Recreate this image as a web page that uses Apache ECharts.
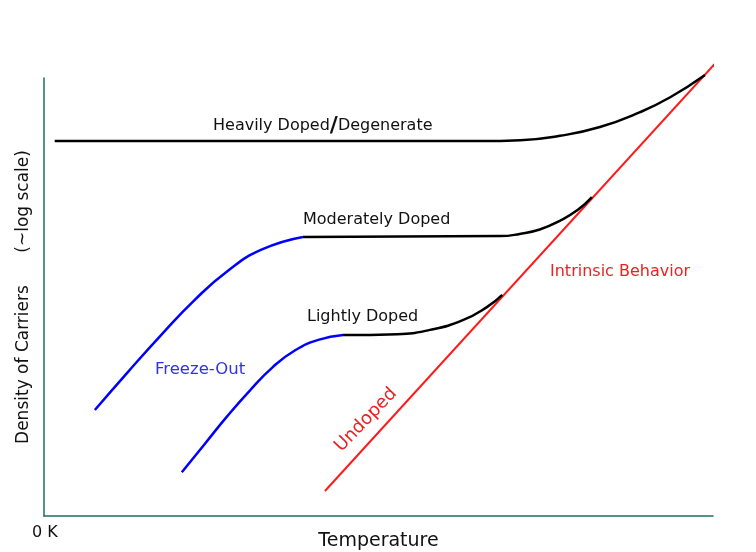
<!DOCTYPE html>
<html>
<head>
<meta charset="utf-8">
<script src="https://cdn.jsdelivr.net/npm/echarts@6/dist/echarts.min.js"></script>
<style>
  html, body { margin: 0; padding: 0; background: #fff; }
  #chart { width: 756px; height: 552px; }
</style>
</head>
<body>
<div id="chart"></div>
<script>
// temperature (0-100) vs log density (0-100)
const heavy = [[1.6, 85.6], [65.2, 85.6], [71.2, 85.8], [77.1, 86.8], [83.1, 88.8], [89.1, 92.2], [93.6, 95.6], [98.8, 100.7]];
const moderateFreeze = [[7.6, 24.2], [12.5, 32.8], [17.5, 41.3], [22.5, 49.3], [27.5, 56.0], [32.5, 60.8], [38.7, 63.7]];
const moderateFlat = [[38.7, 63.7], [68.2, 63.9], [71.1, 64.4], [74.1, 65.4], [77.1, 67.4], [79.8, 69.9], [81.9, 72.8]];
const lightFreeze = [[20.6, 10.0], [24.0, 16.4], [27.4, 22.8], [30.8, 28.7], [34.2, 34.0], [37.6, 37.9], [41.0, 40.2], [44.7, 41.3]];
const lightFlat = [[44.7, 41.3], [52.8, 41.5], [57.7, 42.5], [62.6, 44.7], [66.2, 47.7], [68.5, 50.5]];
const intrinsic = [[42.0, 5.7], [106.4, 113.5]];

const font = "'DejaVu Sans', Verdana, sans-serif";
const axisColor = "#1f6f62";

let myChart = echarts.init(document.getElementById("chart"));

function curve(data, color, width) {
  return {
    type: "line",
    data: data,
    smooth: 0.5,
    showSymbol: false,
    clip: false,
    silent: true,
    lineStyle: { color: color, width: width },
  };
}

let option = {
  animation: false,
  backgroundColor: "#fff",
  grid: { left: 44, right: 43, top: 78, bottom: 36, outerBoundsMode: "none" },
  xAxis: {
    type: "value",
    min: 0,
    max: 100,
    name: "Temperature",
    nameLocation: "middle",
    nameGap: 16,
    nameTextStyle: { fontFamily: font, fontSize: 19, color: "#111" },
    axisLine: { lineStyle: { color: axisColor, width: 1.5 } },
    axisTick: { show: false },
    axisLabel: { show: false },
    splitLine: { show: false },
  },
  yAxis: {
    type: "value",
    min: 0,
    max: 100,
    name: "Density of Carriers      (~log scale)",
    nameLocation: "middle",
    nameGap: 12,
    nameTextStyle: { fontFamily: font, fontSize: 17, color: "#111" },
    axisLine: { lineStyle: { color: axisColor, width: 1.5 } },
    axisTick: { show: false },
    axisLabel: { show: false },
    splitLine: { show: false },
  },
  series: [
    curve(intrinsic, "#ff1a1a", 2),
    curve(heavy, "#000", 2.5),
    curve(moderateFlat, "#000", 2.5),
    curve(lightFlat, "#000", 2.5),
    curve(moderateFreeze, "#0000ff", 2.5),
    curve(lightFreeze, "#0000ff", 2.5),
  ],
  graphic: [
    { type: "text", left: 32, top: 525, style: { text: "0 K", font: "16px " + font, fill: "#111" } },
    {
      type: "text", left: 213, top: 115,
      style: {
        text: "{a|Heavily Doped}{b|/}{a|Degenerate}",
        rich: {
          a: { font: "16px " + font, fill: "#111" },
          b: { font: "bold 22px " + font, fill: "#111" },
        },
      },
    },
    { type: "text", left: 303, top: 212, style: { text: "Moderately Doped", font: "16px " + font, fill: "#111" } },
    { type: "text", left: 307, top: 309, style: { text: "Lightly Doped", font: "16px " + font, fill: "#111" } },
    { type: "text", left: 155, top: 361, style: { text: "Freeze-Out", font: "16.5px " + font, fill: "#3030ee" } },
    { type: "text", left: 550, top: 264, style: { text: "Intrinsic Behavior", font: "16px " + font, fill: "#ee2020" } },
    {
      type: "text", x: 366, y: 420, rotation: Math.PI * 46 / 180,
      style: { text: "Undoped", font: "18px " + font, fill: "#ee2020", align: "center", verticalAlign: "middle" },
    },
  ],
};

myChart.setOption(option);
</script>
</body>
</html>
